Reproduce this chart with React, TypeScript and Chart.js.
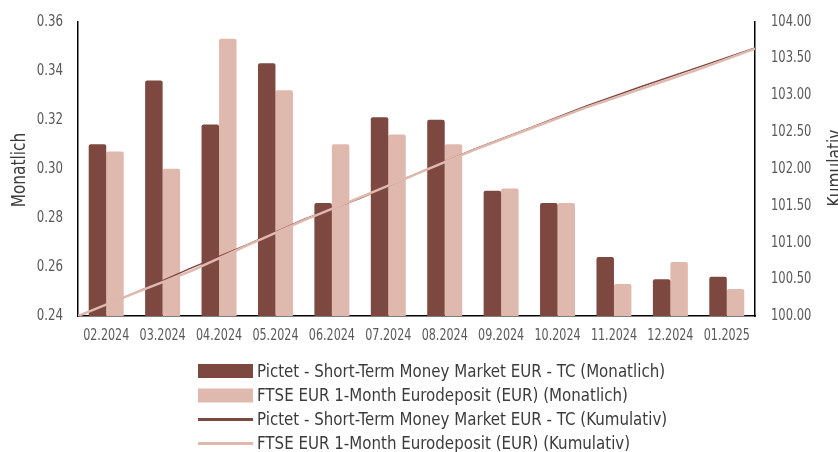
import React, { useEffect, useRef } from "react";
import { Chart, registerables } from "chart.js";

Chart.register(...registerables);

const categories = ["02.2024", "03.2024", "04.2024", "05.2024", "06.2024", "07.2024", "08.2024", "09.2024", "10.2024", "11.2024", "12.2024", "01.2025"];
const pictetMonthly = [0.310, 0.336, 0.318, 0.343, 0.286, 0.321, 0.320, 0.291, 0.286, 0.264, 0.255, 0.256];
const ftseMonthly = [0.307, 0.300, 0.353, 0.332, 0.310, 0.314, 0.310, 0.292, 0.286, 0.253, 0.262, 0.251];
// cumulative values at month boundaries (start of 02.2024 ... end of 01.2025)
const pictetCumulative = [100.0, 100.31, 100.65, 100.97, 101.31, 101.60, 101.93, 102.26, 102.55, 102.85, 103.12, 103.38, 103.64];
const ftseCumulative = [100.0, 100.31, 100.61, 100.96, 101.30, 101.61, 101.93, 102.25, 102.54, 102.83, 103.09, 103.35, 103.63];
const leftTicks = [0.24, 0.26, 0.28, 0.30, 0.32, 0.34, 0.36];
const rightTicks = [100, 100.5, 101, 101.5, 102, 102.5, 103, 103.5, 104];

const seriesNames = [
  "Pictet - Short-Term Money Market EUR - TC (Monatlich)",
  "FTSE EUR 1-Month Eurodeposit (EUR) (Monatlich)",
  "Pictet - Short-Term Money Market EUR - TC (Kumulativ)",
  "FTSE EUR 1-Month Eurodeposit (EUR) (Kumulativ)",
];
const leftTitle = "Monatlich";
const rightTitle = "Kumulativ";

const DARK = "rgb(125,72,64)";
const LIGHT = "rgb(224,185,174)";
const FONT = "'DejaVu Sans Condensed', 'DejaVu Sans', sans-serif";
const TICK = "#595959";
const TEXT = "#3c3c3c";

// month index axis: month i is centred at i, month boundaries at i - 0.5
const monthly = (vals: number[]) => vals.map((v, i) => ({ x: i, y: v }));
const boundary = (vals: number[]) => vals.map((v, i) => ({ x: i - 0.5, y: v }));

function txt(ctx: any, s: string, x: number, y: number, size: number, sx: number, align: string, baseline: string, color: string, rot = 0) {
  ctx.save();
  ctx.translate(x, y);
  if (rot) ctx.rotate(rot);
  ctx.scale(sx, 1);
  ctx.font = `${size}px ${FONT}`;
  ctx.fillStyle = color;
  ctx.textAlign = align;
  ctx.textBaseline = baseline;
  ctx.fillText(s, 0, 0);
  ctx.restore();
}

const textPlugin = {
  id: "customText",
  afterDraw(chart: any) {
    const ctx = chart.ctx;
    const { x, y, y2 } = chart.scales;
    categories.forEach((c, i) => txt(ctx, c, x.getPixelForValue(i), 336, 15.5, 0.8, "center", "middle", TICK));
    leftTicks.forEach((v) => txt(ctx, v.toFixed(2), 63, y.getPixelForValue(v), 16, 0.82, "right", "middle", TICK));
    rightTicks.forEach((v) => txt(ctx, v.toFixed(2), 771, y2.getPixelForValue(v), 16, 0.8, "left", "middle", TICK));
    txt(ctx, leftTitle, 25, 170, 19, 0.9, "center", "alphabetic", TEXT, -Math.PI / 2);
    txt(ctx, rightTitle, 841, 168, 19, 0.9, "center", "alphabetic", TEXT, -Math.PI / 2);
    const rows = [371, 395.5, 419.5, 443.5];
    const types = ["bar", "bar", "line", "line"];
    const colors = [DARK, LIGHT, DARK, LIGHT];
    rows.forEach((ry, i) => {
      ctx.save();
      if (types[i] === "bar") {
        ctx.fillStyle = colors[i];
        ctx.fillRect(198, ry - 7, 55, 14);
      } else {
        ctx.strokeStyle = colors[i];
        ctx.lineWidth = 3;
        ctx.beginPath();
        ctx.moveTo(198, ry);
        ctx.lineTo(253, ry);
        ctx.stroke();
      }
      ctx.restore();
      txt(ctx, seriesNames[i], 257, ry + 1, 18, 0.93, "left", "middle", TEXT);
    });
  },
};

export default function App() {
  const ref = useRef<HTMLCanvasElement>(null);
  useEffect(() => {
    if (!ref.current) return;
    const chart = new Chart(ref.current, {
      type: "bar",
      data: {
        datasets: [
          {
            type: "line",
            label: seriesNames[2],
            data: boundary(pictetCumulative),
            borderColor: DARK,
            borderWidth: 1.5,
            pointRadius: 0,
            yAxisID: "y2",
            order: 1,
          } as any,
          {
            type: "line",
            label: seriesNames[3],
            data: boundary(ftseCumulative),
            borderColor: LIGHT,
            borderWidth: 2.5,
            pointRadius: 0,
            yAxisID: "y2",
            order: 0,
          } as any,
          {
            type: "bar",
            label: seriesNames[0],
            data: monthly(pictetMonthly),
            backgroundColor: DARK,
            borderRadius: 2,
            borderSkipped: "bottom",
            categoryPercentage: 0.62,
            barPercentage: 1.0,
            yAxisID: "y",
            order: 2,
          },
          {
            type: "bar",
            label: seriesNames[1],
            data: monthly(ftseMonthly),
            backgroundColor: LIGHT,
            borderRadius: 2,
            borderSkipped: "bottom",
            categoryPercentage: 0.62,
            barPercentage: 1.0,
            yAxisID: "y",
            order: 3,
          },
        ],
      },
      options: {
        responsive: false,
        animation: false,
        layout: { padding: { top: 21.5, left: 0, right: 0, bottom: 0 } },
        plugins: { legend: { display: false }, tooltip: { enabled: false } },
        scales: {
          x: {
            type: "linear",
            position: "bottom",
            offset: false,
            min: -0.5,
            max: 11.5,
            grid: { display: false },
            border: { display: true, color: "#000", width: 1.5 },
            ticks: { display: false, stepSize: 1 },
            afterFit: (s: any) => { s.height = 136; },
          },
          y: {
            position: "left",
            min: 0.24,
            max: 0.36,
            grid: { display: false },
            border: { display: true, color: "#000", width: 1.5 },
            ticks: { display: false, stepSize: 0.02 },
            afterFit: (s: any) => { s.width = 78; },
          },
          y2: {
            position: "right",
            min: 100,
            max: 104,
            grid: { display: false },
            border: { display: true, color: "#000", width: 1.5 },
            ticks: { display: false, stepSize: 0.5 },
            afterFit: (s: any) => { s.width = 83; },
          },
        },
      } as any,
      plugins: [textPlugin],
    });
    return () => chart.destroy();
  }, []);
  return (
    <div style={{ position: "fixed", left: 0, top: 0, width: 838, height: 452, background: "#fff", overflow: "hidden" }}>
      <canvas ref={ref} width={838} height={452} style={{ display: "block" }} />
    </div>
  );
}
